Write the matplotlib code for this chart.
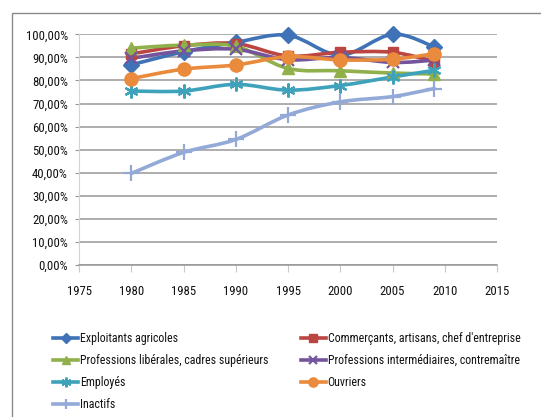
import numpy as np
import matplotlib.pyplot as plt
from matplotlib import font_manager
from matplotlib.path import Path
from matplotlib.patches import PathPatch, Rectangle
from matplotlib.lines import Line2D
from matplotlib.ticker import FuncFormatter

# pick a narrow sans font if one is installed, else plain Liberation Sans
fonts = font_manager.fontManager.ttflist
names = {f.name for f in fonts}
tick_size, legend_size = 8.0, 7.4
family = "Liberation Sans" if "Liberation Sans" in names else "DejaVu Sans"
stretch = "normal"
for cand in ["Liberation Sans Narrow", "Arial Narrow", "DejaVu Sans Condensed",
             "Roboto Condensed", "Open Sans Condensed", "Noto Sans Condensed"]:
    if cand in names:
        family, tick_size, legend_size = cand, 9.2, 8.6
        break
else:
    for f in fonts:
        if str(f.stretch) in ("condensed", "semi-condensed", "extra-condensed") \
                and f.style == "normal" and f.weight in (400, "normal", "regular"):
            family, stretch = f.name, str(f.stretch)
            tick_size, legend_size = 9.2, 8.6
            break

plt.rcParams['font.family'] = [family, 'DejaVu Sans']
plt.rcParams['font.stretch'] = stretch
plt.rcParams['font.size'] = tick_size
plt.rcParams['text.color'] = "#111111"

# ===== Data (%) =====
years = [1980, 1985, 1990, 1995, 2000, 2005, 2009]
exploitants = [86.8, 92.4, 96.5, 99.6, 91.0, 100.0, 94.5]
commercants = [91.5, 95.0, 96.0, 90.6, 92.2, 92.2, 88.2]
liberales = [94.0, 95.3, 94.8, 85.2, 84.2, 83.2, 82.8]
intermediaires = [89.6, 92.8, 93.5, 89.0, 90.0, 87.8, 88.8]
employes = [75.4, 75.4, 78.3, 75.8, 77.8, 81.5, 84.4]
ouvriers = [80.8, 84.9, 86.7, 90.3, 88.9, 89.2, 91.6]
inactifs = [39.7, 48.8, 54.4, 65.0, 70.7, 73.0, 76.5]

labels = [
    "Exploitants agricoles",
    "Commerçants, artisans, chef d'entreprise",
    "Professions libérales, cadres supérieurs",
    "Professions intermédiaires, contremaître",
    "Employés",
    "Ouvriers",
    "Inactifs",
]
series = [exploitants, commercants, liberales, intermediaires, employes, ouvriers, inactifs]

# ===== Styles =====
colors = ["#3f72b6", "#bb4541", "#8fb04a", "#74549c", "#3fa2bb", "#ea8a3c", "#93aad8"]
markers = ["D", "s", "^", "x", (6, 2, 0), "o", "+"]
msizes = [8, 7.5, 9, 8, 10, 9.5, 11]


def smooth_path(xs, ys):
    # cubic bezier through the points (Catmull-Rom style control points)
    pts = np.column_stack([xs, ys]).astype(float)
    n = len(pts)
    verts = [pts[0]]
    codes = [Path.MOVETO]
    for i in range(n - 1):
        p0 = pts[max(i - 1, 0)]
        p1 = pts[i]
        p2 = pts[i + 1]
        p3 = pts[min(i + 2, n - 1)]
        verts += [p1 + (p2 - p0) / 6, p2 - (p3 - p1) / 6, p2]
        codes += [Path.CURVE4] * 3
    return Path(verts, codes)


fig = plt.figure(figsize=(5.41, 4.17), dpi=100)
ax = fig.add_axes([79 / 541, 1 - 265 / 417, (497 - 79) / 541, (265 - 34.3) / 417])

# outer chart frame
fig.patches.append(Rectangle((12 / 541, -0.1), 1.2, 1.1 - 12.7 / 417,
                             transform=fig.transFigure, fill=False,
                             edgecolor="#8a8a8a", lw=1.0))

lw = 2.6
handles = []
for vals, col, mk, ms, lab in zip(series, colors, markers, msizes, labels):
    ax.add_patch(PathPatch(smooth_path(years, vals), fill=False, edgecolor=col,
                           lw=lw, capstyle="round", joinstyle="round", clip_on=False))
    mew = 1.6 if mk in ("x", "+", (6, 2, 0)) else 1.0
    ax.plot(years, vals, linestyle="none", marker=mk, ms=ms, color=col,
            markeredgecolor=col, mew=mew, clip_on=False)
    handles.append(Line2D([], [], color=col, lw=lw, marker=mk, ms=ms * 0.7,
                          markeredgecolor=col, mew=mew))

# ===== Axes =====
ax.set_xlim(1975, 2015)
ax.set_ylim(0, 100)
ax.set_xticks(range(1975, 2016, 5))
ax.set_yticks(range(0, 101, 10))
ax.yaxis.set_major_formatter(FuncFormatter(lambda v, p: f"{v:.2f}%".replace(".", ",")))
ax.grid(axis="y", color="#979797", lw=1.1)
ax.set_axisbelow(True)
for s in ["top", "right"]:
    ax.spines[s].set_visible(False)
ax.spines["left"].set_color("#d4d4d4")
ax.spines["bottom"].set_color("#979797")
ax.spines["bottom"].set_linewidth(1.1)
ax.tick_params(axis="x", direction="out", length=5, color="#c8c8c8", pad=9.5, labelcolor="#111111")
ax.tick_params(axis="y", direction="out", length=3, color="#979797", pad=5, labelcolor="#111111")

# ===== Legend (two columns, filled column-wise) =====
px = legend_size * 100 / 72
order = [0, 2, 4, 6, 1, 3, 5]
fig.legend([handles[i] for i in order], [labels[i] for i in order], ncol=2,
           loc="upper left", bbox_to_anchor=(53 / 541, 1 - 332 / 417),
           frameon=False, borderaxespad=0, borderpad=0, fontsize=legend_size,
           handlelength=25 / px, handletextpad=2 / px,
           columnspacing=32 / px, labelspacing=0.75)

fig.savefig("out.png", dpi=100)
